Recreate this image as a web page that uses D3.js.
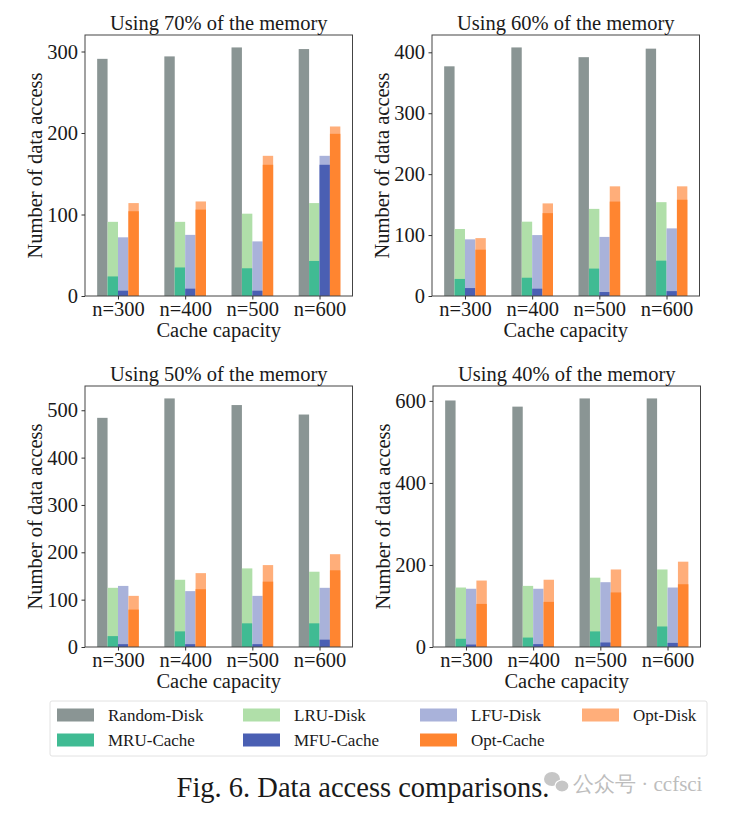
<!DOCTYPE html>
<html><head><meta charset="utf-8">
<script src="https://cdn.jsdelivr.net/npm/d3@7"></script>
<style>
html,body{margin:0;padding:0;background:#fff;}
svg text{font-family:"Liberation Serif","Times New Roman",serif;}
</style></head>
<body>
<svg id="chart" width="729" height="813"></svg>
<script>
// ---------------- data ----------------
const categories = ["n=300", "n=400", "n=500", "n=600"];
const panelTitles = ["Using 70% of the memory", "Using 60% of the memory", "Using 50% of the memory", "Using 40% of the memory"];
const seriesNames = ["Random-Disk", "LRU-Disk", "LFU-Disk", "Opt-Disk", "MRU-Cache", "MFU-Cache", "Opt-Cache"];
const seriesColors = ["#8a9594", "#b0dfa9", "#a9b2da", "#ffae7a", "#40bb93", "#4a5fb3", "#ff8530"];

// 70%
const randomDisk70 = [291, 294, 305, 303];
const lruDisk70    = [91, 91, 101, 114];
const mruCache70   = [24, 35, 34, 43];
const lfuDisk70    = [72, 75, 67, 172];
const mfuCache70   = [6.5, 9, 6.5, 161];
const optDisk70    = [114, 116, 172, 208];
const optCache70   = [104, 106, 161, 199];
// 60%
const randomDisk60 = [377, 408, 392, 406];
const lruDisk60    = [110, 122, 143, 154];
const mruCache60   = [28, 30, 45, 58];
const lfuDisk60    = [93, 100, 97, 111];
const mfuCache60   = [13, 12, 6.5, 8];
const optDisk60    = [95, 152, 180, 180];
const optCache60   = [76, 136, 155, 158];
// 50%
const randomDisk50 = [484, 525, 511, 491];
const lruDisk50    = [125, 142, 166, 159];
const mruCache50   = [23, 33, 50, 50];
const lfuDisk50    = [129, 118, 108, 125];
const mfuCache50   = [6, 6, 6, 15.5];
const optDisk50    = [108, 156, 173, 196];
const optCache50   = [79, 122, 138, 162];
// 40%
const randomDisk40 = [601, 586, 606, 606];
const lruDisk40    = [145, 149, 169, 189];
const mruCache40   = [20, 23, 38, 50];
const lfuDisk40    = [142, 142, 158, 145];
const mfuCache40   = [6, 7, 11, 10];
const optDisk40    = [162, 164, 189, 208];
const optCache40   = [105, 110, 133, 153];

const yTicks70 = [0, 100, 200, 300];
const yTicks60 = [0, 100, 200, 300, 400];
const yTicks50 = [0, 100, 200, 300, 400, 500];
const yTicks40 = [0, 200, 400, 600];

const xLabel = "Cache capacity";
const yLabel = "Number of data access";
const caption = "Fig. 6. Data access comparisons.";

// ---------------- layout ----------------
const panels = [
  {title: panelTitles[0], ticks: yTicks70, disk: [randomDisk70, lruDisk70, lfuDisk70, optDisk70], cache: [null, mruCache70, mfuCache70, optCache70], x0: 85,  y0: 35},
  {title: panelTitles[1], ticks: yTicks60, disk: [randomDisk60, lruDisk60, lfuDisk60, optDisk60], cache: [null, mruCache60, mfuCache60, optCache60], x0: 432, y0: 35},
  {title: panelTitles[2], ticks: yTicks50, disk: [randomDisk50, lruDisk50, lfuDisk50, optDisk50], cache: [null, mruCache50, mfuCache50, optCache50], x0: 85,  y0: 386},
  {title: panelTitles[3], ticks: yTicks40, disk: [randomDisk40, lruDisk40, lfuDisk40, optDisk40], cache: [null, mruCache40, mfuCache40, optCache40], x0: 433, y0: 386},
];
const PW = 267.5, PH = 261;
const barW = 0.155;
const span = (categories.length - 1) + 4 * barW;
const pad = 0.05 * span;
const FS = 20.5;

const svg = d3.select("#chart");

panels.forEach((p, pi) => {
  const g = svg.append("g").attr("transform", `translate(${p.x0},${p.y0})`);
  const x = d3.scaleLinear()
    .domain([-2 * barW - pad, categories.length - 1 + 2 * barW + pad])
    .range([0, PW]);
  const ymax = 1.05 * d3.max(p.disk.flat());
  const y = d3.scaleLinear().domain([0, ymax]).range([PH, 0]);

  // bars: disk first, cache overlay
  for (let s = 0; s < 4; s++) {
    const off = (s - 2) * barW;
    g.append("g").selectAll("rect").data(p.disk[s]).join("rect")
      .attr("x", (d, i) => x(i + off))
      .attr("width", x(barW) - x(0))
      .attr("y", d => y(d))
      .attr("height", d => y(0) - y(d))
      .attr("fill", seriesColors[s]);
    if (p.cache[s]) {
      g.append("g").selectAll("rect").data(p.cache[s]).join("rect")
        .attr("x", (d, i) => x(i + off))
        .attr("width", x(barW) - x(0))
        .attr("y", d => y(d))
        .attr("height", d => y(0) - y(d))
        .attr("fill", seriesColors[s + 3]);
    }
  }

  // frame
  g.append("rect").attr("x", 0).attr("y", 0).attr("width", PW).attr("height", PH)
    .attr("fill", "none").attr("stroke", "#444").attr("stroke-width", 1);

  // y axis
  const ya = d3.axisLeft(y).tickValues(p.ticks).tickFormat(d3.format("d")).tickSize(3.5).tickPadding(3.5);
  const yg = g.append("g").call(ya);
  yg.select(".domain").remove();
  yg.selectAll("line").attr("stroke", "#333");
  yg.selectAll("text").attr("font-size", FS).attr("fill", "#1a1a1a")
    .attr("font-family", "Liberation Serif, Times New Roman, serif");

  // x axis
  const xa = d3.axisBottom(x).tickValues(d3.range(categories.length)).tickFormat(i => categories[i]).tickSize(3.5).tickPadding(2);
  const xg = g.append("g").attr("transform", `translate(0,${PH})`).call(xa);
  xg.select(".domain").remove();
  xg.selectAll("line").attr("stroke", "#333");
  xg.selectAll("text").attr("font-size", FS).attr("fill", "#1a1a1a")
    .attr("font-family", "Liberation Serif, Times New Roman, serif");

  // title
  g.append("text").attr("x", PW / 2).attr("y", -5.5).attr("text-anchor", "middle")
    .attr("font-size", FS).attr("fill", "#1a1a1a").text(p.title);
  // x label
  g.append("text").attr("x", PW / 2).attr("y", PH + 41).attr("text-anchor", "middle")
    .attr("font-size", FS).attr("fill", "#1a1a1a").text(xLabel);
  // y label
  g.append("text").attr("transform", `translate(${-43},${PH / 2}) rotate(-90)`)
    .attr("text-anchor", "middle").attr("font-size", FS).attr("fill", "#1a1a1a").text(yLabel);
});

// ---------------- legend ----------------
const lg = svg.append("g");
lg.append("rect").attr("x", 50).attr("y", 701).attr("width", 657).attr("height", 55)
  .attr("rx", 2).attr("fill", "#fff").attr("stroke", "#e2e2e2").attr("stroke-width", 1);
const legendOrder = [0, 4, 1, 5, 2, 6, 3]; // column-major fill, 4 columns
const colX = [57, 243, 420, 582];
const rowY = [715, 740];
legendOrder.forEach((si, k) => {
  const c = Math.floor(k / 2), r = k % 2;
  lg.append("rect").attr("x", colX[c]).attr("y", rowY[r] - 6.5).attr("width", 37).attr("height", 13)
    .attr("fill", seriesColors[si]);
  lg.append("text").attr("x", colX[c] + 51).attr("y", rowY[r] + 6).attr("font-size", 17)
    .attr("fill", "#1a1a1a").text(seriesNames[si]);
});

// caption
svg.append("text").attr("x", 363).attr("y", 797).attr("text-anchor", "middle")
  .attr("font-size", 28.5).attr("fill", "#1a1a1a").text(caption);

// watermark
const wm = svg.append("g").attr("opacity", 0.55);
wm.append("ellipse").attr("cx", 552).attr("cy", 779).attr("rx", 8).attr("ry", 7).attr("fill", "#999");
wm.append("ellipse").attr("cx", 562).attr("cy", 786).attr("rx", 7).attr("ry", 6).attr("fill", "#999").attr("stroke", "#fff").attr("stroke-width", 1.2);
wm.append("text").attr("x", 573).attr("y", 791).attr("font-size", 21)
  .attr("font-family", "Noto Sans CJK SC, Noto Sans, sans-serif").attr("fill", "#888").text("公众号 · ccfsci");
</script>
</body></html>
